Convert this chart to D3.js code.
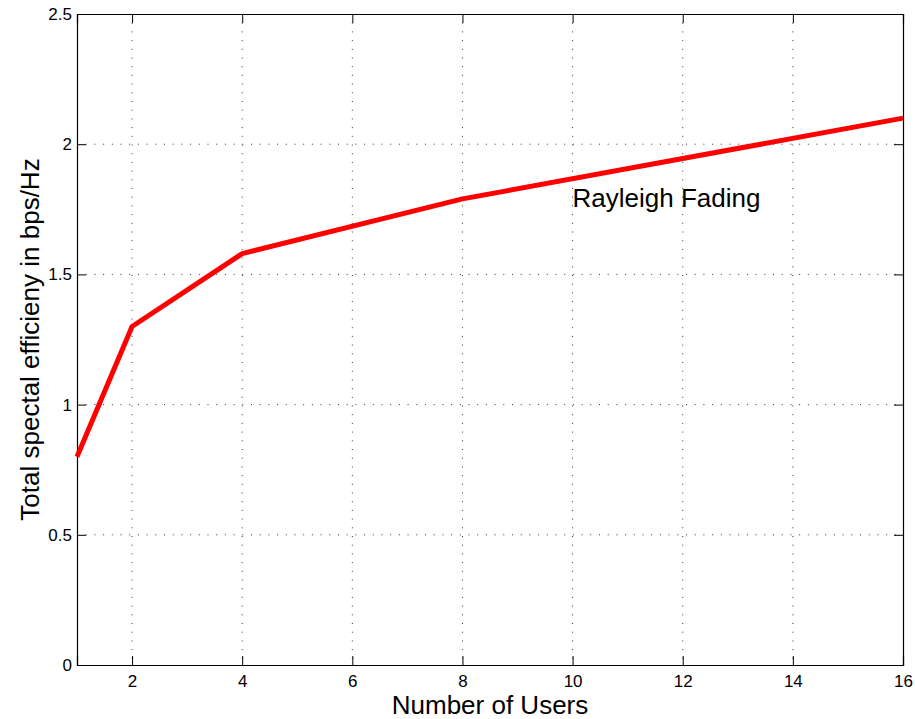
<!DOCTYPE html>
<html>
<head>
<meta charset="utf-8">
<script src="https://cdn.jsdelivr.net/npm/d3@7"></script>
<style>
  body { margin: 0; background: #fff; }
  svg text { font-family: "Liberation Sans", Arial, sans-serif; fill: #000; }
</style>
</head>
<body>
<svg id="chart" width="915" height="719"></svg>
<script>
// data
const users = [1, 2, 4, 8, 16];
const efficiency = [0.8, 1.3, 1.58, 1.79, 2.1];
const xTicks = [2, 4, 6, 8, 10, 12, 14, 16];
const yTicks = [0, 0.5, 1, 1.5, 2, 2.5];

const svg = d3.select("#chart");
const m = { top: 14, right: 12, bottom: 54, left: 77 };
const W = 915 - m.left - m.right;
const H = 719 - m.top - m.bottom;

const g = svg.append("g").attr("transform", `translate(${m.left},${m.top})`);

const x = d3.scaleLinear().domain([1, 16]).range([0, W]);
const y = d3.scaleLinear().domain([0, 2.5]).range([H, 0]);

// dotted grid
g.append("g").selectAll("line").data(xTicks.filter(d => d < 16)).join("line")
  .attr("x1", d => x(d)).attr("x2", d => x(d))
  .attr("y1", 0).attr("y2", H)
  .attr("stroke", "#333").attr("stroke-width", 1)
  .attr("stroke-dasharray", "1,7.7");

g.append("g").selectAll("line").data(yTicks.filter(d => d > 0 && d < 2.5)).join("line")
  .attr("x1", 0).attr("x2", W)
  .attr("y1", d => y(d)).attr("y2", d => y(d))
  .attr("stroke", "#333").attr("stroke-width", 1)
  .attr("stroke-dasharray", "1,7.7");

// axes, MATLAB style box with inner ticks
const tk = 9;
const xAxis = g.append("g").attr("transform", `translate(0,${H})`)
  .call(d3.axisBottom(x).tickValues(xTicks).tickSize(-tk).tickPadding(10).tickFormat(d3.format("d")));
const yAxis = g.append("g")
  .call(d3.axisLeft(y).tickValues(yTicks).tickSize(-tk).tickPadding(5).tickFormat(d3.format("")));
g.append("g")
  .call(d3.axisTop(x).tickValues(xTicks).tickSize(-tk).tickFormat(""));
g.append("g").attr("transform", `translate(${W},0)`)
  .call(d3.axisRight(y).tickValues(yTicks).tickSize(-tk).tickFormat(""));

g.selectAll(".domain").attr("stroke", "#000").attr("stroke-width", 1.2);
g.selectAll(".tick line").attr("stroke", "#000");
xAxis.selectAll("text").style("font-size", "17px");
yAxis.selectAll("text").style("font-size", "17px");

// series
const line = d3.line().x((d, i) => x(users[i])).y(d => y(d));
g.append("path")
  .datum(efficiency)
  .attr("fill", "none")
  .attr("stroke", "#ff0000")
  .attr("stroke-width", 5)
  .attr("stroke-linejoin", "round")
  .attr("d", line);

// annotation
g.append("text")
  .attr("x", x(10))
  .attr("y", y(1.76))
  .style("font-size", "26px")
  .text("Rayleigh Fading");

// axis labels
svg.append("text")
  .attr("x", m.left + W / 2)
  .attr("y", 714)
  .attr("text-anchor", "middle")
  .style("font-size", "26px")
  .text("Number of Users");

svg.append("text")
  .attr("transform", `translate(39,${m.top + H / 2}) rotate(-90)`)
  .attr("text-anchor", "middle")
  .style("font-size", "26px")
  .text("Total spectal efficieny in bps/Hz");
</script>
</body>
</html>
